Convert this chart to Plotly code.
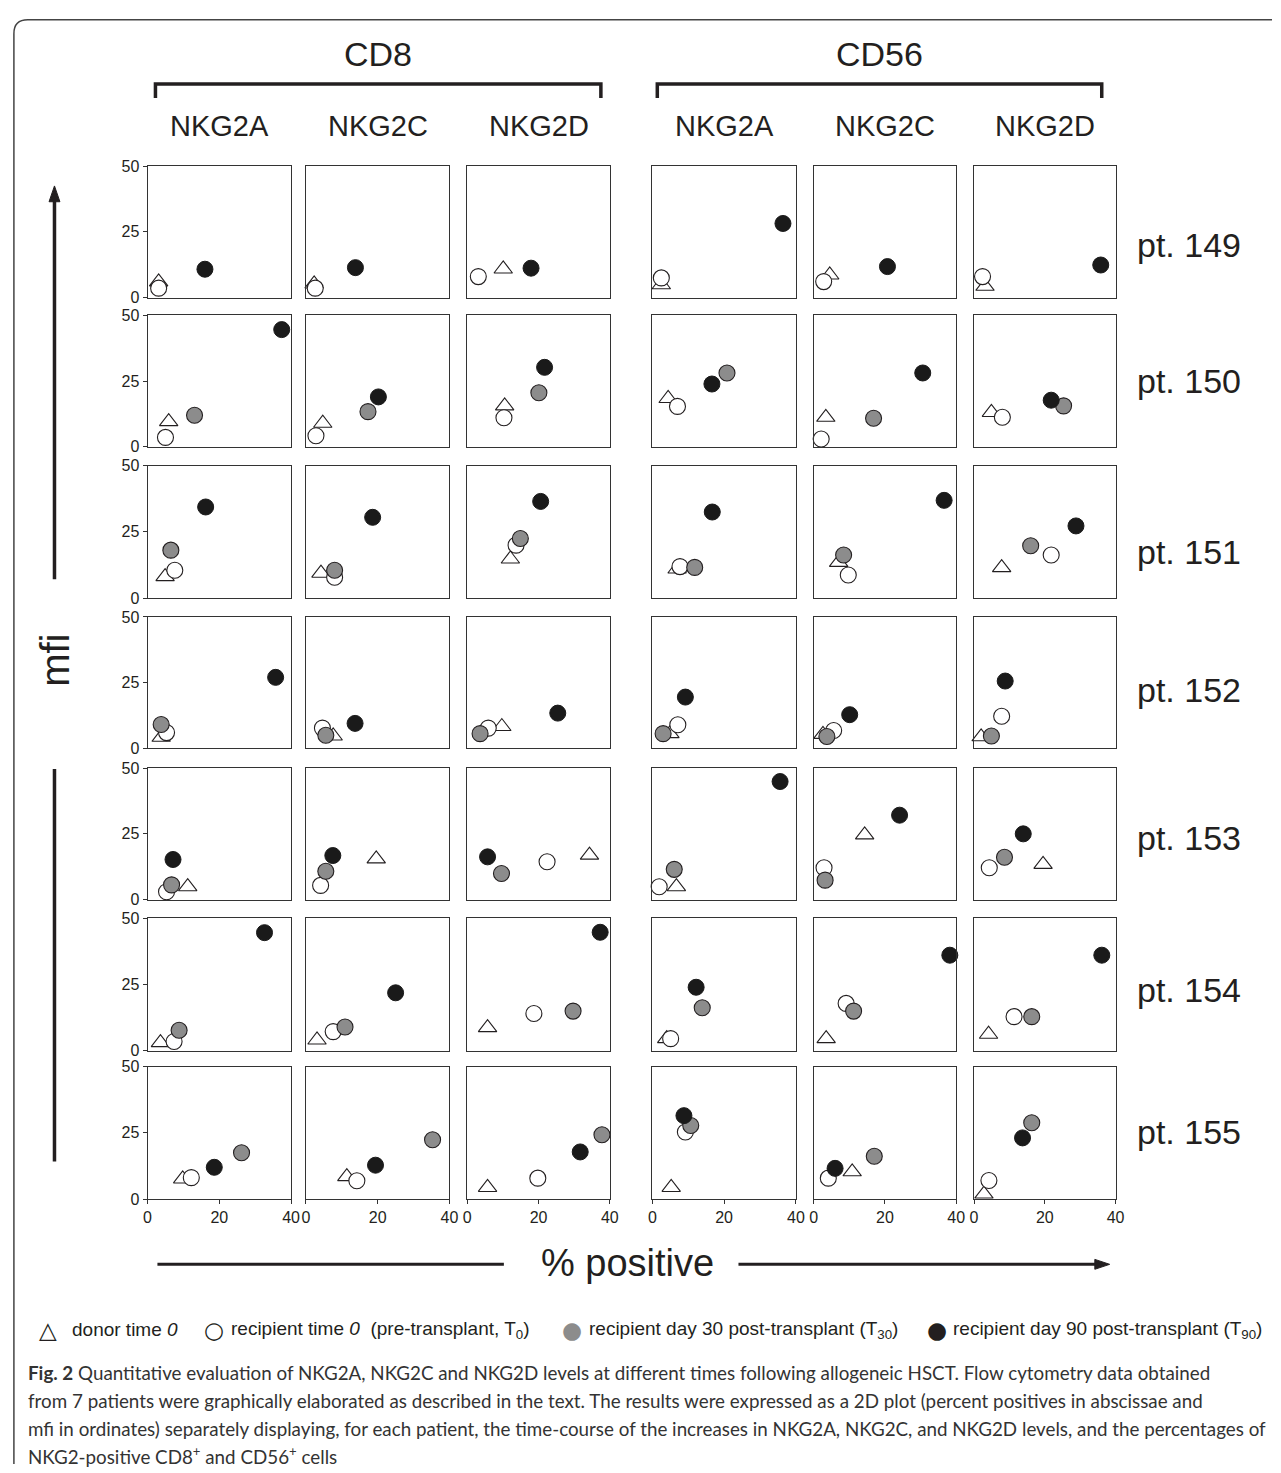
import plotly.graph_objects as go

W, H = 1281, 1473

# ---------------- data ----------------
populations = ["CD8", "CD56"]
receptors = ["NKG2A", "NKG2C", "NKG2D"]
patients = ["pt. 149", "pt. 150", "pt. 151", "pt. 152", "pt. 153", "pt. 154", "pt. 155"]
x_ticks = [0, 20, 40]
y_ticks = [0, 25, 50]

# per patient: 6 panels = CD8 (NKG2A, NKG2C, NKG2D), CD56 (NKG2A, NKG2C, NKG2D)
# % positive
donor_pos = [
    [3.1, 2.3, 10.1, 2.5, 4.5, 3.1],
    [5.9, 4.7, 10.5, 4.4, 3.4, 4.9],
    [4.9, 4.2, 12.1, 6.9, 7.0, 7.8],
    [3.8, 7.6, 9.7, 4.9, 2.6, 2.0],
    [11.2, 19.6, 34.3, 6.7, 14.3, 19.5],
    [3.6, 3.1, 5.7, 4.0, 3.5, 4.1],
    [9.8, 11.4, 5.7, 5.25, 10.8, 2.8],
]
donor_mfi = [
    [6.0, 5.2, 10.9, 4.9, 8.6, 4.3],
    [9.6, 9.0, 15.6, 18.4, 11.25, 13.1],
    [8.1, 9.4, 14.75, 11.0, 13.5, 11.5],
    [4.2, 4.7, 8.3, 5.6, 5.3, 4.4],
    [4.9, 15.5, 16.9, 4.9, 24.6, 13.4],
    [3.1, 4.1, 8.75, 4.6, 4.6, 6.25],
    [7.6, 8.5, 4.4, 4.4, 10.3, 1.9],
]
rec_t0_pos = [
    [3.1, 2.6, 3.1, 2.5, 2.8, 2.4],
    [5.0, 2.8, 10.3, 7.0, 2.1, 8.0],
    [7.6, 8.0, 13.7, 7.7, 9.7, 21.8],
    [5.3, 4.6, 5.9, 7.1, 5.6, 7.8],
    [5.3, 4.1, 22.4, 1.9, 2.9, 4.3],
    [7.4, 7.6, 18.7, 5.1, 9.1, 11.3],
    [12.2, 14.2, 19.8, 9.2, 4.1, 4.2],
]
rec_t0_mfi = [
    [3.6, 3.6, 8.0, 7.5, 6.1, 8.0],
    [3.6, 4.25, 11.1, 15.4, 3.0, 11.25],
    [10.5, 7.9, 20.0, 11.9, 8.75, 16.25],
    [6.0, 7.7, 7.7, 9.0, 6.8, 12.2],
    [3.0, 5.4, 14.4, 4.9, 12.1, 12.1],
    [3.5, 7.25, 14.1, 4.6, 17.9, 12.9],
    [8.1, 6.9, 7.9, 25.3, 7.9, 7.0],
]
rec_t30_pos = [
    [None, None, None, None, None, None],
    [13.1, 17.3, 20.1, 20.8, 16.8, 25.3],
    [6.5, 8.0, 14.9, 11.8, 8.4, 16.0],
    [3.8, 5.55, 3.6, 3.0, 3.7, 4.9],
    [6.7, 5.55, 9.6, 6.1, 3.2, 8.6],
    [8.8, 10.9, 29.7, 13.9, 11.2, 16.3],
    [26.2, 35.3, 37.8, 10.7, 17.0, 16.3],
]
rec_t30_mfi = [
    [None, None, None, None, None, None],
    [12.0, 13.4, 20.6, 28.1, 10.9, 15.6],
    [18.1, 10.5, 22.5, 11.6, 16.25, 19.75],
    [9.1, 5.0, 5.6, 5.6, 4.5, 4.7],
    [5.6, 10.75, 9.9, 11.5, 7.4, 16.1],
    [7.75, 9.0, 15.0, 16.25, 15.0, 12.9],
    [17.5, 22.4, 24.3, 27.8, 16.2, 28.8],
]
rec_t90_pos = [
    [16.0, 13.8, 17.9, 36.4, 20.7, 35.8],
    [37.4, 20.2, 21.7, 16.6, 30.6, 21.8],
    [16.2, 18.6, 20.6, 16.7, 36.6, 28.8],
    [35.7, 13.7, 25.4, 9.2, 10.1, 8.8],
    [7.1, 7.5, 5.7, 35.6, 24.1, 13.9],
    [32.6, 25.0, 37.3, 12.2, 38.2, 36.1],
    [18.6, 19.4, 31.7, 8.8, 6.0, 13.7],
]
rec_t90_mfi = [
    [10.8, 11.4, 11.2, 28.2, 11.8, 12.4],
    [44.6, 19.0, 30.25, 23.9, 28.1, 17.75],
    [34.4, 30.5, 36.5, 32.5, 36.9, 27.25],
    [27.0, 9.5, 13.4, 19.5, 12.8, 25.6],
    [15.25, 16.75, 16.25, 44.9, 32.1, 25.0],
    [44.6, 21.9, 44.75, 24.0, 36.1, 36.1],
    [12.0, 12.8, 17.8, 31.5, 11.6, 23.1],
]

# ---------------- layout geometry (pixels) ----------------
col_px = [(145, 290), (305, 450), (468, 612), (655, 800), (818, 962), (980, 1123)]
row_px = [(160, 293), (311, 444), (463, 597), (616, 749), (769, 902), (921, 1055), (1071, 1205)]
pt_label_y = [240, 377, 550, 690, 840, 993, 1137]

FONT = "Liberation Sans, Arial, Helvetica, sans-serif"
INK = "#231f20"


def fx(p):
    return p / W


def fy(p):
    return 1 - p / H


series = [
    dict(name="donor time 0", pos=donor_pos, mfi=donor_mfi,
         marker=dict(symbol="triangle-up", size=16, color="white", line=dict(color=INK, width=1.1))),
    dict(name="recipient time 0", pos=rec_t0_pos, mfi=rec_t0_mfi,
         marker=dict(symbol="circle", size=16, color="white", line=dict(color=INK, width=1.1))),
    dict(name="recipient day 30", pos=rec_t30_pos, mfi=rec_t30_mfi,
         marker=dict(symbol="circle", size=16, color="#8c8c8c", line=dict(color=INK, width=1.1))),
    dict(name="recipient day 90", pos=rec_t90_pos, mfi=rec_t90_mfi,
         marker=dict(symbol="circle", size=16, color="#1a1a1a", line=dict(color="#1a1a1a", width=1))),
]

fig = go.Figure()
layout = dict(width=W, height=H, margin=dict(l=0, r=0, t=0, b=0),
              paper_bgcolor="white", plot_bgcolor="white", showlegend=False,
              font=dict(family=FONT, color=INK))

for r in range(len(patients)):
    for c in range(6):
        n = r * 6 + c + 1
        xs = "" if n == 1 else str(n)
        xname, yname = "x" + xs, "y" + xs
        bottom = r == len(patients) - 1
        left = c == 0
        layout["xaxis" + xs] = dict(
            domain=[fx(col_px[c][0]), fx(col_px[c][1])], anchor=yname, range=[0, 40],
            showline=True, mirror=True, linecolor="#333", linewidth=1,
            showgrid=False, zeroline=False, fixedrange=True,
            tickvals=x_ticks, ticks="outside" if bottom else "", ticklen=4, tickcolor="#333",
            showticklabels=bottom, tickfont=dict(size=16, color=INK, family=FONT))
        layout["yaxis" + xs] = dict(
            domain=[fy(row_px[r][1]), fy(row_px[r][0])], anchor=xname, range=[0, 50],
            showline=True, mirror=True, linecolor="#333", linewidth=1,
            showgrid=False, zeroline=False, fixedrange=True,
            tickvals=y_ticks, ticks="outside" if left else "", ticklen=4, tickcolor="#333",
            showticklabels=left, tickfont=dict(size=16, color=INK, family=FONT))
        for s in series:
            xv, yv = s["pos"][r][c], s["mfi"][r][c]
            if xv is None:
                continue
            fig.add_trace(go.Scatter(x=[xv], y=[yv], mode="markers", name=s["name"],
                                     marker=s["marker"], xaxis=xname, yaxis=yname,
                                     cliponaxis=False, hoverinfo="x+y+name"))

annotations = []
shapes = []

# group headers and brackets
groups = [(populations[0], 153, 603), (populations[1], 660, 1109)]
for name, x0, x1 in groups:
    annotations.append(dict(text=name, x=fx((x0 + x1) / 2), y=fy(47), xref="paper", yref="paper",
                            showarrow=False, font=dict(size=34, family=FONT, color=INK),
                            xanchor="center", yanchor="middle"))
    path = "M {a},{b} L {a},{c} L {d},{c} L {d},{b}".format(a=fx(x0), b=fy(91), c=fy(77), d=fx(x1))
    shapes.append(dict(type="path", path=path, xref="paper", yref="paper",
                       line=dict(color=INK, width=3.5)))

# receptor column headers
for c in range(6):
    cx = (col_px[c][0] + col_px[c][1]) / 2
    annotations.append(dict(text=receptors[c % 3], x=fx(cx), y=fy(119), xref="paper", yref="paper",
                            showarrow=False, font=dict(size=29, family=FONT, color=INK),
                            xanchor="center", yanchor="middle"))

# patient labels
for r, lab in enumerate(patients):
    annotations.append(dict(text=lab, x=fx(1197), y=fy(pt_label_y[r]), xref="paper", yref="paper",
                            showarrow=False, font=dict(size=34, family=FONT, color=INK),
                            xanchor="center", yanchor="middle"))

# mfi axis label with arrow
annotations.append(dict(text="mfi", x=fx(52), y=fy(660), xref="paper", yref="paper", textangle=-90,
                        showarrow=False, font=dict(size=40, family=FONT, color=INK),
                        xanchor="center", yanchor="middle"))
shapes.append(dict(type="line", xref="paper", yref="paper", x0=fx(51), x1=fx(51), y0=fy(578), y1=fy(192),
                   line=dict(color=INK, width=3.5)))
shapes.append(dict(type="path", xref="paper", yref="paper",
                   path="M {a},{b} L {c},{d} L {e},{b} Z".format(a=fx(45.5), b=fy(196), c=fx(51), d=fy(180), e=fx(56.5)),
                   fillcolor=INK, line=dict(color=INK, width=1)))
shapes.append(dict(type="line", xref="paper", yref="paper", x0=fx(51), x1=fx(51), y0=fy(770), y1=fy(1167),
                   line=dict(color=INK, width=3.5)))

# % positive label with arrow
annotations.append(dict(text="% positive", x=fx(630), y=fy(1270), xref="paper", yref="paper",
                        showarrow=False, font=dict(size=38, family=FONT, color=INK),
                        xanchor="center", yanchor="middle"))
shapes.append(dict(type="line", xref="paper", yref="paper", x0=fx(155), x1=fx(505), y0=fy(1271), y1=fy(1271),
                   line=dict(color=INK, width=3)))
shapes.append(dict(type="line", xref="paper", yref="paper", x0=fx(742), x1=fx(1104), y0=fy(1271), y1=fy(1271),
                   line=dict(color=INK, width=3)))
shapes.append(dict(type="path", xref="paper", yref="paper",
                   path="M {a},{b} L {c},{d} L {a},{e} Z".format(a=fx(1102), b=fy(1266), c=fx(1117), d=fy(1271), e=fy(1276)),
                   fillcolor=INK, line=dict(color=INK, width=1)))

# outer frame with rounded corner
frame = "M {a},{b} L {a},{c} Q {a},{d} {e},{d} L {f},{d}".format(
    a=fx(10), b=fy(1473), c=fy(26), d=fy(12), e=fx(24), f=fx(1281))
shapes.append(dict(type="path", path=frame, xref="paper", yref="paper", line=dict(color="#444", width=1.5)))

# legend row
legend_items = [
    ("\u25b3", "white", 44, "donor time <i>0</i>", 67),
    ("\u25cb", "white", 212, "recipient time <i>0</i>  (pre-transplant, T<sub>0</sub>)", 227),
    ("\u25cf", "#8c8c8c", 574, "recipient day 30 post-transplant (T<sub>30</sub>)", 589),
    ("\u25cf", INK, 943, "recipient day 90 post-transplant (T<sub>90</sub>)", 957),
]
for sym, col, sx, txt, tx in legend_items:
    sym_txt = sym if col == "white" else '<span style="color:{}">{}</span>'.format(col, sym)
    annotations.append(dict(text=sym_txt, x=fx(sx), y=fy(1337), xref="paper", yref="paper",
                            showarrow=False, font=dict(size=23, family="DejaVu Sans", color=INK),
                            xanchor="center", yanchor="middle"))
    annotations.append(dict(text=txt, x=fx(tx), y=fy(1337), xref="paper", yref="paper",
                            showarrow=False, font=dict(size=19, family=FONT, color=INK),
                            xanchor="left", yanchor="middle"))

# caption
caption_lines = [
    "<b>Fig. 2</b> Quantitative evaluation of NKG2A, NKG2C and NKG2D levels at different times following allogeneic HSCT. Flow cytometry data obtained",
    "from 7 patients were graphically elaborated as described in the text. The results were expressed as a 2D plot (percent positives in abscissae and",
    "mfi in ordinates) separately displaying, for each patient, the time-course of the increases in NKG2A, NKG2C, and NKG2D levels, and the percentages of",
    "NKG2-positive CD8<sup>+</sup> and CD56<sup>+</sup> cells",
]
caption_y = [1380, 1409, 1437, 1464]
for line, ly in zip(caption_lines, caption_y):
    annotations.append(dict(text=line, x=fx(22), y=fy(ly), xref="paper", yref="paper",
                            showarrow=False, font=dict(size=18.8, family="Lato, Roboto, sans-serif", color="#333"),
                            xanchor="left", yanchor="middle"))

layout["annotations"] = annotations
layout["shapes"] = shapes
fig.update_layout(**layout)
fig.write_html("out.html")
